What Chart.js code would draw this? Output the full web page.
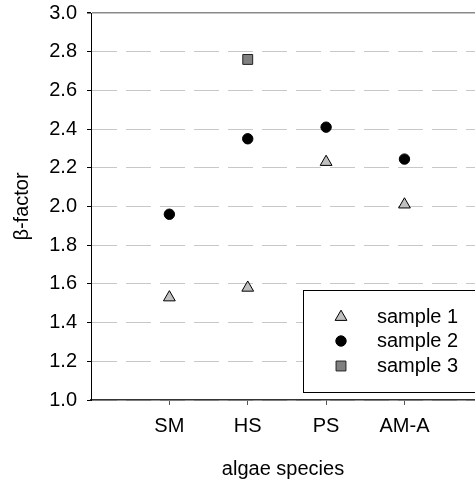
<!DOCTYPE html>
<html>
<head>
<meta charset="utf-8">
<script src="https://cdn.jsdelivr.net/npm/chart.js@4"></script>
<style>
  html, body { margin: 0; padding: 0; background: #fff; }
  #wrap { width: 475px; height: 482px; }
</style>
</head>
<body>
<div id="wrap"><canvas id="myChart" width="475" height="482"></canvas></div>
<script>
var species = ["SM", "HS", "PS", "AM-A"];
var sample1 = [1.53, 1.58, 2.23, 2.01];
var sample2 = [1.96, 2.35, 2.41, 2.245];
var sample3 = [null, 2.76, null, null];
var seriesNames = ["sample 1", "sample 2", "sample 3"];
var yTicks = [1.0, 1.2, 1.4, 1.6, 1.8, 2.0, 2.2, 2.4, 2.6, 2.8, 3.0];

function points(vals) {
  var out = [];
  for (var i = 0; i < vals.length; i++) {
    if (vals[i] != null) out.push({ x: i + 1, y: vals[i] });
  }
  return out;
}

var FONT = "Arial, 'Liberation Sans', sans-serif";

// legend box drawn inside the plot, bottom right
var boxLegend = {
  id: "boxLegend",
  afterDatasetsDraw: function (chart) {
    var ctx = chart.ctx;
    var x0 = 303.5, y0 = 290.5, x1 = 480, y1 = 392.5;
    ctx.save();
    ctx.fillStyle = "#fff";
    ctx.fillRect(x0, y0, x1 - x0, y1 - y0);
    ctx.strokeStyle = "#000";
    ctx.lineWidth = 1;
    ctx.strokeRect(x0, y0, x1 - x0, y1 - y0);
    var rows = [317, 341, 366];
    chart.data.datasets.forEach(function (ds, i) {
      ctx.fillStyle = ds.backgroundColor;
      ctx.strokeStyle = ds.borderColor;
      ctx.lineWidth = ds.borderWidth;
      Chart.helpers.drawPoint(ctx, {
        pointStyle: ds.pointStyle,
        radius: ds.pointRadius,
        borderWidth: ds.borderWidth
      }, 341, rows[i]);
      ctx.fillStyle = "#000";
      ctx.font = "20px " + FONT;
      ctx.textBaseline = "middle";
      ctx.textAlign = "left";
      ctx.fillText(ds.label, 377, rows[i]);
    });
    ctx.restore();
  }
};

function isTop(c) { return c.tick && c.tick.value === 3; }

new Chart("myChart", {
  type: "scatter",
  data: {
    datasets: [
      {
        label: seriesNames[0],
        data: points(sample1),
        pointStyle: "triangle",
        pointRadius: 6.8,
        backgroundColor: "#c0c0c0",
        borderColor: "#000",
        borderWidth: 1
      },
      {
        label: seriesNames[1],
        data: points(sample2),
        pointStyle: "circle",
        pointRadius: 5.2,
        backgroundColor: "#000",
        borderColor: "#000",
        borderWidth: 1
      },
      {
        label: seriesNames[2],
        data: points(sample3),
        pointStyle: "rect",
        pointRadius: 7,
        backgroundColor: "#808080",
        borderColor: "#222",
        borderWidth: 1
      }
    ]
  },
  options: {
    responsive: false,
    animation: false,
    layout: { autoPadding: false, padding: { left: 0, right: 0, top: 13, bottom: 0 } },
    plugins: {
      legend: { display: false },
      tooltip: { enabled: false }
    },
    scales: {
      x: {
        type: "linear",
        min: 0,
        max: 4.9,
        afterBuildTicks: function (scale) {
          scale.ticks = species.map(function (s, i) { return { value: i + 1 }; });
        },
        afterFit: function (scale) {
          scale.height = 82;
          scale.paddingLeft = 0;
          scale.paddingRight = 0;
        },
        ticks: {
          color: "#000",
          font: { size: 20, family: FONT },
          padding: 9,
          callback: function (v) { return species[v - 1]; }
        },
        grid: {
          drawOnChartArea: false,
          tickLength: 5,
          tickColor: "#555"
        },
        border: { color: "#333", width: 1.5 },
        title: {
          display: true,
          text: "algae species",
          color: "#000",
          font: { size: 20, family: FONT },
          padding: { top: 0, bottom: 1 }
        }
      },
      y: {
        min: 1,
        max: 3,
        afterBuildTicks: function (scale) {
          scale.ticks = yTicks.map(function (v) { return { value: v }; });
        },
        afterFit: function (scale) {
          scale.width = 91;
          scale.paddingTop = 0;
          scale.paddingBottom = 0;
        },
        ticks: {
          color: "#000",
          font: { size: 20, family: FONT },
          padding: 10,
          callback: function (v) { return v.toFixed(1); }
        },
        grid: {
          color: function (c) { return isTop(c) ? "#8a8a8a" : "#c8c8c8"; },
          lineWidth: function (c) { return isTop(c) ? 1.5 : 1; },
          tickLength: 4,
          tickColor: "#000",
          tickBorderDash: []
        },
        border: {
          color: "#000",
          width: 1,
          dash: function (c) { return (!c.tick || isTop(c)) ? [] : [25, 9]; }
        },
        title: {
          display: true,
          text: "β-factor",
          color: "#000",
          font: { size: 20, family: FONT },
          padding: { top: 10, bottom: 0 }
        }
      }
    }
  },
  plugins: [boxLegend]
});
</script>
</body>
</html>
